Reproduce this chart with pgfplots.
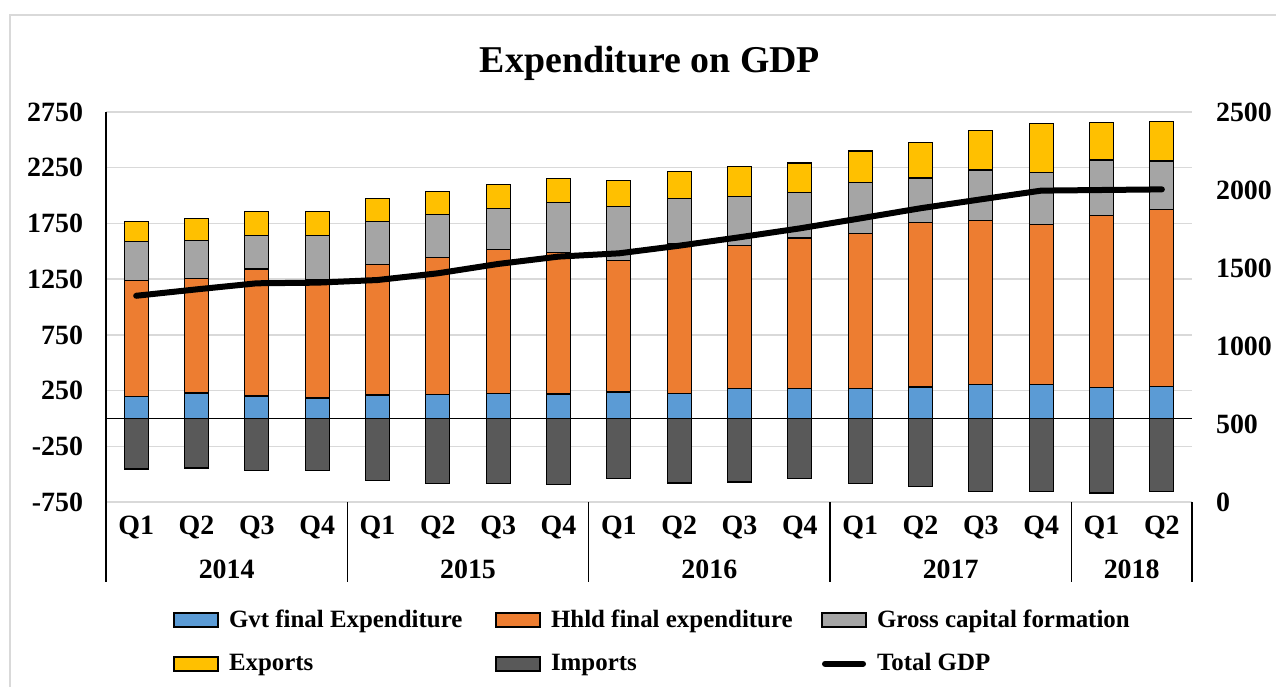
\documentclass[border=0pt]{standalone}
\usepackage{pgfplots}
\pgfplotsset{compat=1.18}
\usepackage{pgfplotstable}
\usepackage{fontspec}
\setmainfont{Liberation Serif}
\definecolor{cgvt}{HTML}{5B9BD5}
\definecolor{chhld}{HTML}{ED7D31}
\definecolor{cgcf}{HTML}{A5A5A5}
\definecolor{cexp}{HTML}{FFC000}
\definecolor{cimp}{HTML}{595959}
\definecolor{cgrid}{HTML}{D9D9D9}
\pgfplotsset{
  swatch/.style={legend image code/.code={\draw[##1] (0bp,-3.5bp) rectangle (22bp,3.5bp);}},
  lineimg/.style={legend image code/.code={\draw[##1] (1.5bp,0bp) -- (20.5bp,0bp);}},
  common/.style={at={(53bp,92bp)}, anchor=south west, width=543bp, height=195bp,
    scale only axis, xmin=-0.5, xmax=17.5, clip=false},
}
\pgfplotstableread{
idx gvt hhld gcf exp imp gdp
0 195 1044 348 180 -453 1322
1 228 1026 345 198 -444 1363
2 201 1140 300 219 -465 1402
3 183 1059 402 210 -465 1406
4 210 1170 384 207 -555 1423
5 216 1230 384 210 -585 1466
6 222 1293 369 216 -585 1526
7 219 1272 444 216 -591 1573
8 237 1182 483 231 -540 1594
9 222 1344 411 240 -579 1643
10 270 1284 441 267 -570 1697
11 267 1353 405 267 -540 1754
12 270 1392 456 282 -582 1818
13 282 1476 399 321 -609 1883
14 303 1473 453 357 -654 1940
15 303 1440 465 438 -657 1996
16 276 1545 498 339 -669 2000
17 288 1590 432 354 -657 2004
}\datatable
\newcommand{\tf}{\bfseries\fontsize{14}{16}\selectfont}
\newcommand{\lf}{\bfseries\fontsize{12.5}{15}\selectfont}
\begin{document}
\begin{tikzpicture}[x=1bp,y=1bp]
\useasboundingbox (0,0) rectangle (638,343);
\draw[cgrid, line width=1bp] (5,-20) rectangle (660,335.5);
\node[font=\bfseries\fontsize{19}{22}\selectfont] at (325,311.5) {Expenditure on GDP};

% main positive stacked bars
\begin{axis}[common,
  ymin=-750, ymax=2750,
  ytick={-750,-250,250,750,1250,1750,2250,2750},
  yticklabels={-750,-250,250,750,1250,1750,2250,2750},
  xtick={0,...,17},
  xticklabels={Q1,Q2,Q3,Q4,Q1,Q2,Q3,Q4,Q1,Q2,Q3,Q4,Q1,Q2,Q3,Q4,Q1,Q2},
  ymajorgrids, grid style={cgrid, line width=0.7bp},
  axis y line*=left, axis x line*=bottom,
  x axis line style={draw=none},
  y axis line style={black, line width=0.8bp},
  major tick length=0pt,
  tick label style={font=\tf},
  yticklabel style={anchor=east, xshift=-8bp},
  xticklabel style={anchor=center, yshift=-13bp},
  ybar stacked, bar width=12bp,
]
\addplot[fill=cgvt, draw=black, line width=0.6bp] table[x=idx,y=gvt]{\datatable};
\addplot[fill=chhld, draw=black, line width=0.6bp] table[x=idx,y=hhld]{\datatable};
\addplot[fill=cgcf, draw=black, line width=0.6bp] table[x=idx,y=gcf]{\datatable};
\addplot[fill=cexp, draw=black, line width=0.6bp] table[x=idx,y=exp]{\datatable};
\foreach \xx in {-0.5,3.5,7.5,11.5,15.5,17.5} {
  \edef\tmp{\noexpand\draw[black, line width=0.8bp] (axis cs:\xx,-750) -- ++(0bp,-40bp);}\tmp
}
\node[font=\tf] at (axis cs:1.5,-750) [yshift=-33.5bp] {2014};
\node[font=\tf] at (axis cs:5.5,-750) [yshift=-33.5bp] {2015};
\node[font=\tf] at (axis cs:9.5,-750) [yshift=-33.5bp] {2016};
\node[font=\tf] at (axis cs:13.5,-750) [yshift=-33.5bp] {2017};
\node[font=\tf] at (axis cs:16.5,-750) [yshift=-33.5bp] {2018};
\end{axis}

% imports
\begin{axis}[common, ymin=-750, ymax=2750, hide axis, ybar, bar width=12bp]
\addplot[fill=cimp, draw=black, line width=0.6bp] table[x=idx,y=imp]{\datatable};
\draw[black, line width=0.7bp] (axis cs:-0.5,0) -- (axis cs:17.5,0);
\end{axis}

% total GDP, right axis
\begin{axis}[common,
  ymin=0, ymax=2500,
  ytick={0,500,1000,1500,2000,2500},
  yticklabels={0,500,1000,1500,2000,2500},
  axis y line*=right, axis x line=none,
  y axis line style={draw=none},
  major tick length=0pt,
  tick label style={font=\tf},
  yticklabel style={anchor=west, xshift=8.5bp},
  legend columns=3,
  legend cell align=left,
  legend style={at={(0.0617,-0.277)}, anchor=north west, draw=none, fill=none,
    inner sep=0pt, outer sep=0pt, font=\lf,
    nodes={inner sep=0pt}, column sep=0pt, row sep=11.5bp,
    /tikz/every odd column/.append style={column sep=5bp}},
]
\addlegendimage{swatch, fill=cgvt, draw=black, line width=1bp}
\addlegendentry{\makebox[133bp][l]{Gvt final Expenditure}}
\addlegendimage{swatch, fill=chhld, draw=black, line width=1bp}
\addlegendentry{\makebox[135bp][l]{Hhld final expenditure}}
\addlegendimage{swatch, fill=cgcf, draw=black, line width=1bp}
\addlegendentry{Gross capital formation}
\addlegendimage{swatch, fill=cexp, draw=black, line width=1bp}
\addlegendentry{\makebox[133bp][l]{Exports}}
\addlegendimage{swatch, fill=cimp, draw=black, line width=1bp}
\addlegendentry{\makebox[135bp][l]{Imports}}
\addplot[black, line width=3bp, line cap=round, line join=round, lineimg] table[x=idx,y=gdp]{\datatable};
\addlegendentry{Total GDP}
\end{axis}
\end{tikzpicture}
\end{document}
